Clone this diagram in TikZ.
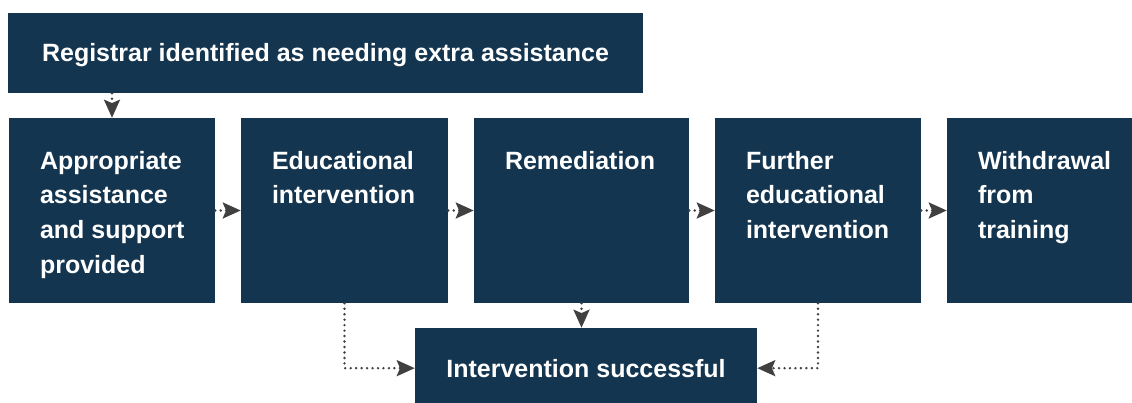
\documentclass[tikz,border=0pt]{standalone}
\usepackage{fontspec}
\setmainfont{Liberation Sans}
\usetikzlibrary{arrows.meta,fit}
\definecolor{boxblue}{HTML}{14354F}
\definecolor{arrowgray}{HTML}{404040}
\begin{document}
\begin{tikzpicture}[x=0.75pt,y=-0.75pt,
  box/.style={rectangle, fill=boxblue, draw=none, inner sep=0pt},
  lbl/.style={text=white, font=\bfseries\fontsize{18.75}{26}\selectfont},
  rowtext/.style={lbl, anchor=north west, align=left, inner sep=0pt},
  conn/.style={draw=arrowgray, line width=2pt, line cap=round,
    dash pattern=on 0pt off 4.1pt,
    -{Stealth[length=13.5pt,width=12pt,inset=2.5pt]}}]
\useasboundingbox (0,0) rectangle (1132,403);
% boxes
\node[box, lbl, minimum width=476.25pt, minimum height=60pt, text height=13.4pt, text depth=0pt] (top) at (325.5,53) {Registrar identified as needing extra assistance};
\node[box, fit={(9,118) (215,303)}] (b1) {};
\node[box, fit={(241,118) (448,303)}] (b2) {};
\node[box, fit={(474,118) (689,303)}] (b3) {};
\node[box, fit={(715,118) (921,303)}] (b4) {};
\node[box, fit={(947,118) (1132,303)}] (b5) {};
\node[box, lbl, minimum width=256.5pt, minimum height=56.25pt, text height=18.4pt, text depth=0pt] (bot) at (586,365.5) {Intervention successful};
% texts
\node[rowtext] (t1) at ([xshift=23.25pt,yshift=-24.75pt]b1.north west) {Appropriate\\assistance\\and support\\provided};
\node[rowtext] (t2) at ([xshift=23.25pt,yshift=-24.75pt]b2.north west) {Educational\\intervention};
\node[rowtext] (t3) at ([xshift=23.25pt,yshift=-24.75pt]b3.north west) {Remediation};
\node[rowtext] (t4) at ([xshift=23.25pt,yshift=-24.75pt]b4.north west) {Further\\educational\\intervention};
\node[rowtext] (t5) at ([xshift=23.25pt,yshift=-24.75pt]b5.north west) {Withdrawal\\from\\training};
% connectors
\draw[conn] (b1.north |- top.south) -- (b1.north);
\draw[conn] (b1.east) -- (b2.west);
\draw[conn] (b2.east) -- (b3.west);
\draw[conn] (b3.east) -- (b4.west);
\draw[conn] (b4.east) -- (b5.west);
\draw[conn] (b3.south) -- (b3.south |- bot.north);
\draw[conn] (b2.south) |- ([yshift=-2pt]bot.west);
\draw[conn] (b4.south) |- ([yshift=-2pt]bot.east);
\end{tikzpicture}
\end{document}
